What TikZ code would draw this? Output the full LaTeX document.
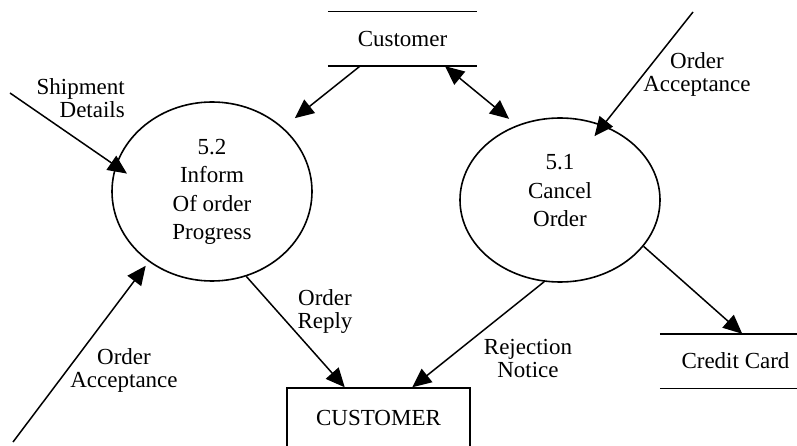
\documentclass[tikz,border=0pt]{standalone}
\usepackage{fontspec}
\setmainfont{Liberation Serif}
\usetikzlibrary{arrows.meta,shapes.geometric,calc}
\begin{document}
\begin{tikzpicture}[x=1pt,y=-1pt,
  every node/.style={font=\fontsize{23}{23}\selectfont},
  bubble/.style={draw,ellipse,line width=1.6pt,inner sep=0pt},
  store/.style={inner sep=0pt},
  storeline/.style={line width=1.4pt},
  extbox/.style={draw,rectangle,line width=1.4pt,inner sep=0pt},
  flow/.style={line width=1.5pt,-{Triangle[length=19pt,width=17pt]}},
  flowboth/.style={line width=1.5pt,{Triangle[length=19pt,width=17pt]}-{Triangle[length=19pt,width=17pt]}},
  lbl/.style={align=center,inner sep=0pt,font=\fontsize{23}{23}\selectfont},
  ptxt/.style={align=center,inner sep=0pt,font=\fontsize{23}{28.5}\selectfont}]
\useasboundingbox (0,0) rectangle (797,446);

% data stores
\node[store,minimum width=149pt,minimum height=54pt] (cust) at (402.5,39) {Customer};
\draw[storeline] (cust.north west) -- (cust.north east) (cust.south west) -- (cust.south east);
\node[store,minimum width=137pt,minimum height=54pt] (cc) at (728.5,361) {\hspace*{14pt}Credit Card};
\draw[storeline] (cc.north west) -- (cc.north east) (cc.south west) -- (cc.south east);

% external entity
\node[extbox,minimum width=183pt,minimum height=70pt,text depth=11pt] (box) at (378.5,423) {CUSTOMER};

% processes
\node[bubble,minimum width=200pt,minimum height=179pt] (p52) at (212,191.5) {};
\node[ptxt] (p52t) at (212,192) {5.2\\Inform\\Of order\\Progress};
\node[bubble,minimum width=200pt,minimum height=164pt] (p51) at (560,200) {};
\node[ptxt] (p51t) at (560,191) {5.1\\Cancel\\Order};

% labels
\node[lbl,align=right,anchor=east] (l1) at (125,98) {Shipment\\Details};
\node[lbl] (l2) at (697,74) {Order\\Acceptance};
\node[lbl] (l3) at (325,312) {Order\\Reply};
\node[lbl] (l4) at (124,370) {Order\\Acceptance};
\node[lbl] (l5) at (528,358) {Rejection\\Notice};

% free ends
\coordinate (sIn) at (10,93);
\coordinate (oaTop) at (693,12);
\coordinate (oaBot) at (13,442);

% flows
\draw[flow,shorten >=15pt] ($(cust.south west)!0.215!(cust.south east)$) -- (p52.42);
\draw[flowboth,shorten >=10pt] ($(cust.south west)!0.785!(cust.south east)$) -- (p51.120);
\draw[flow,shorten >=-14pt] (oaTop) -- (p51.60);
\draw[flow,shorten >=-14pt] (sIn) -- (p52.165);
\draw[flow,shorten >=5pt] (oaBot) -- (p52.228);
\draw[flow] (p52.292) -- ($(box.north west)!0.317!(box.north east)$);
\draw[flow] (p51.259) -- ($(box.north west)!0.683!(box.north east)$);
\draw[flow] (p51.331) -- ($(cc.north west)!0.6!(cc.north east)$);
\end{tikzpicture}
\end{document}
